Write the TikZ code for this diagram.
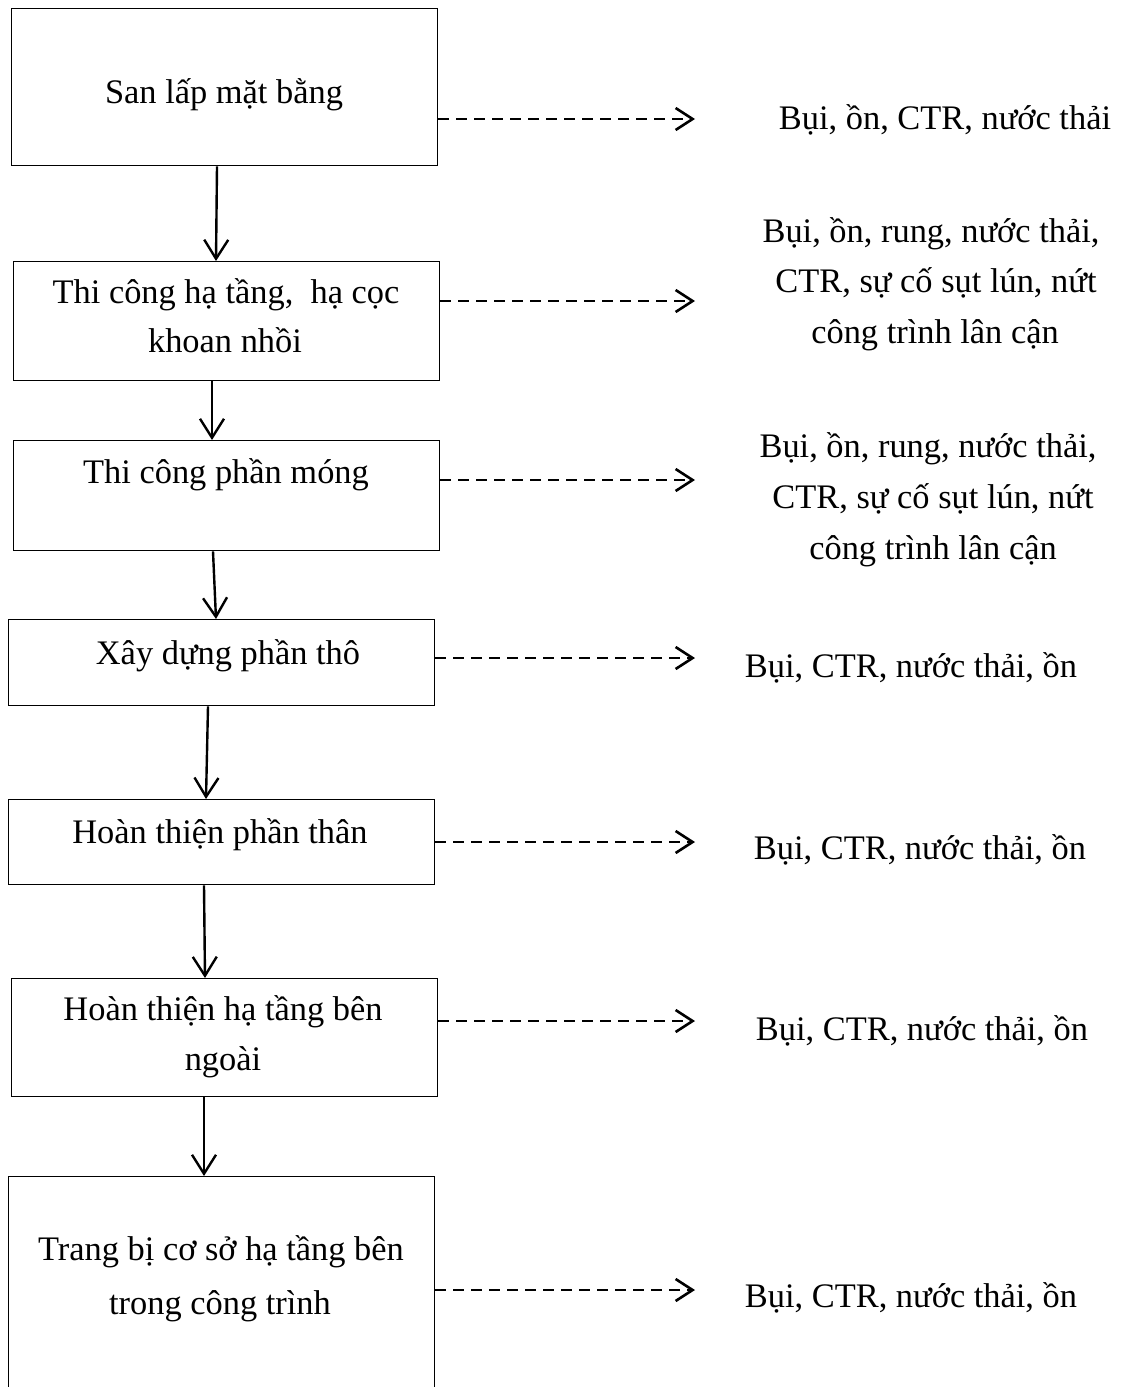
\documentclass[tikz,border=0pt]{standalone}
\usepackage{fontspec}
\setmainfont{Liberation Serif}
\usetikzlibrary{arrows.meta,calc}
\begin{document}
\begin{tikzpicture}[x=1pt,y=-1pt,
  box/.style={draw, line width=1.4pt, inner sep=0pt, anchor=north west},
  txt/.style={anchor=base, inner sep=0pt, font=\fontsize{34.4}{49}\selectfont},
  flow/.style={line width=2.4pt, -{Straight Barb[length=19pt,width=24pt,line width=2.4pt]}},
  emit/.style={line width=2.6pt, dash pattern=on 11pt off 7pt, -{Straight Barb[length=17pt,width=22pt,line width=2.6pt]}}]
\useasboundingbox (0,0) rectangle (1122,1387);
\clip (0,0) rectangle (1122,1387);
\fill[white] (0,0) rectangle (1122,1387);

% process boxes
\node[box, minimum width=426pt, minimum height=157pt] (b1) at (11,8) {};
\node[box, minimum width=426pt, minimum height=119pt] (b2) at (13,261) {};
\node[box, minimum width=426pt, minimum height=110pt] (b3) at (13,440) {};
\node[box, minimum width=426pt, minimum height=86pt] (b4) at (8,619) {};
\node[box, minimum width=426pt, minimum height=85pt] (b5) at (8,799) {};
\node[box, minimum width=426pt, minimum height=118pt] (b6) at (11,978) {};
\node[box, minimum width=426pt, minimum height=240pt] (b7) at (8,1176) {};

% box texts
\node[txt] (t1) at (224,103) {San lấp mặt bằng};
\node[txt] (t2a) at (226,303) {Thi công hạ tầng,\ \ hạ cọc};
\node[txt] (t2b) at (225,352) {khoan nhồi};
\node[txt] (t3) at (226,483) {Thi công phần móng};
\node[txt] (t4) at (228,664) {Xây dựng phần thô};
\node[txt] (t5) at (220,843) {Hoàn thiện phần thân};
\node[txt] (t6a) at (223,1020) {Hoàn thiện hạ tầng bên};
\node[txt] (t6b) at (223,1070) {ngoài};
\node[txt] (t7a) at (221,1260) {Trang bị cơ sở hạ tầng bên};
\node[txt] (t7b) at (220,1314) {trong công trình};

% emission labels
\node[txt] (l1) at (945,129) {Bụi, ồn, CTR, nước thải};
\node[txt] (l2a) at (931,242) {Bụi, ồn, rung, nước thải,};
\node[txt] (l2b) at (936,292) {CTR, sự cố sụt lún, nứt};
\node[txt] (l2c) at (935,343) {công trình lân cận};
\node[txt] (l3a) at (928,457) {Bụi, ồn, rung, nước thải,};
\node[txt] (l3b) at (933,508) {CTR, sự cố sụt lún, nứt};
\node[txt] (l3c) at (933,559) {công trình lân cận};
\node[txt] (l4) at (911,677) {Bụi, CTR, nước thải, ồn};
\node[txt] (l5) at (920,859) {Bụi, CTR, nước thải, ồn};
\node[txt] (l6) at (922,1040) {Bụi, CTR, nước thải, ồn};
\node[txt] (l7) at (911,1307) {Bụi, CTR, nước thải, ồn};

% flow arrows
\draw[flow] ($(b1.south west)+(206,0)$) -- ($(b2.north west)+(203,0)$);
\draw[flow] ($(b2.south west)+(199,0)$) -- ($(b3.north west)+(199,0)$);
\draw[flow] ($(b3.south west)+(200,0)$) -- ($(b4.north west)+(208,0)$);
\draw[flow] ($(b4.south west)+(200,0)$) -- ($(b5.north west)+(198,0)$);
\draw[flow] ($(b5.south west)+(196,0)$) -- ($(b6.north west)+(194,0)$);
\draw[flow] ($(b6.south west)+(193,0)$) -- ($(b7.north west)+(196,0)$);

% emission arrows
\coordinate (e1) at (695,119);
\coordinate (e2) at (695,301);
\coordinate (e3) at (695,480);
\coordinate (e4) at (695,658);
\coordinate (e5) at (695,842);
\coordinate (e6) at (695,1021);
\coordinate (e7) at (695,1290);
\draw[emit] (b1.east |- e1) -- (e1);
\draw[emit] (b2.east |- e2) -- (e2);
\draw[emit] (b3.east |- e3) -- (e3);
\draw[emit] (b4.east |- e4) -- (e4);
\draw[emit] (b5.east |- e5) -- (e5);
\draw[emit] (b6.east |- e6) -- (e6);
\draw[emit] (b7.east |- e7) -- (e7);
\end{tikzpicture}
\end{document}
